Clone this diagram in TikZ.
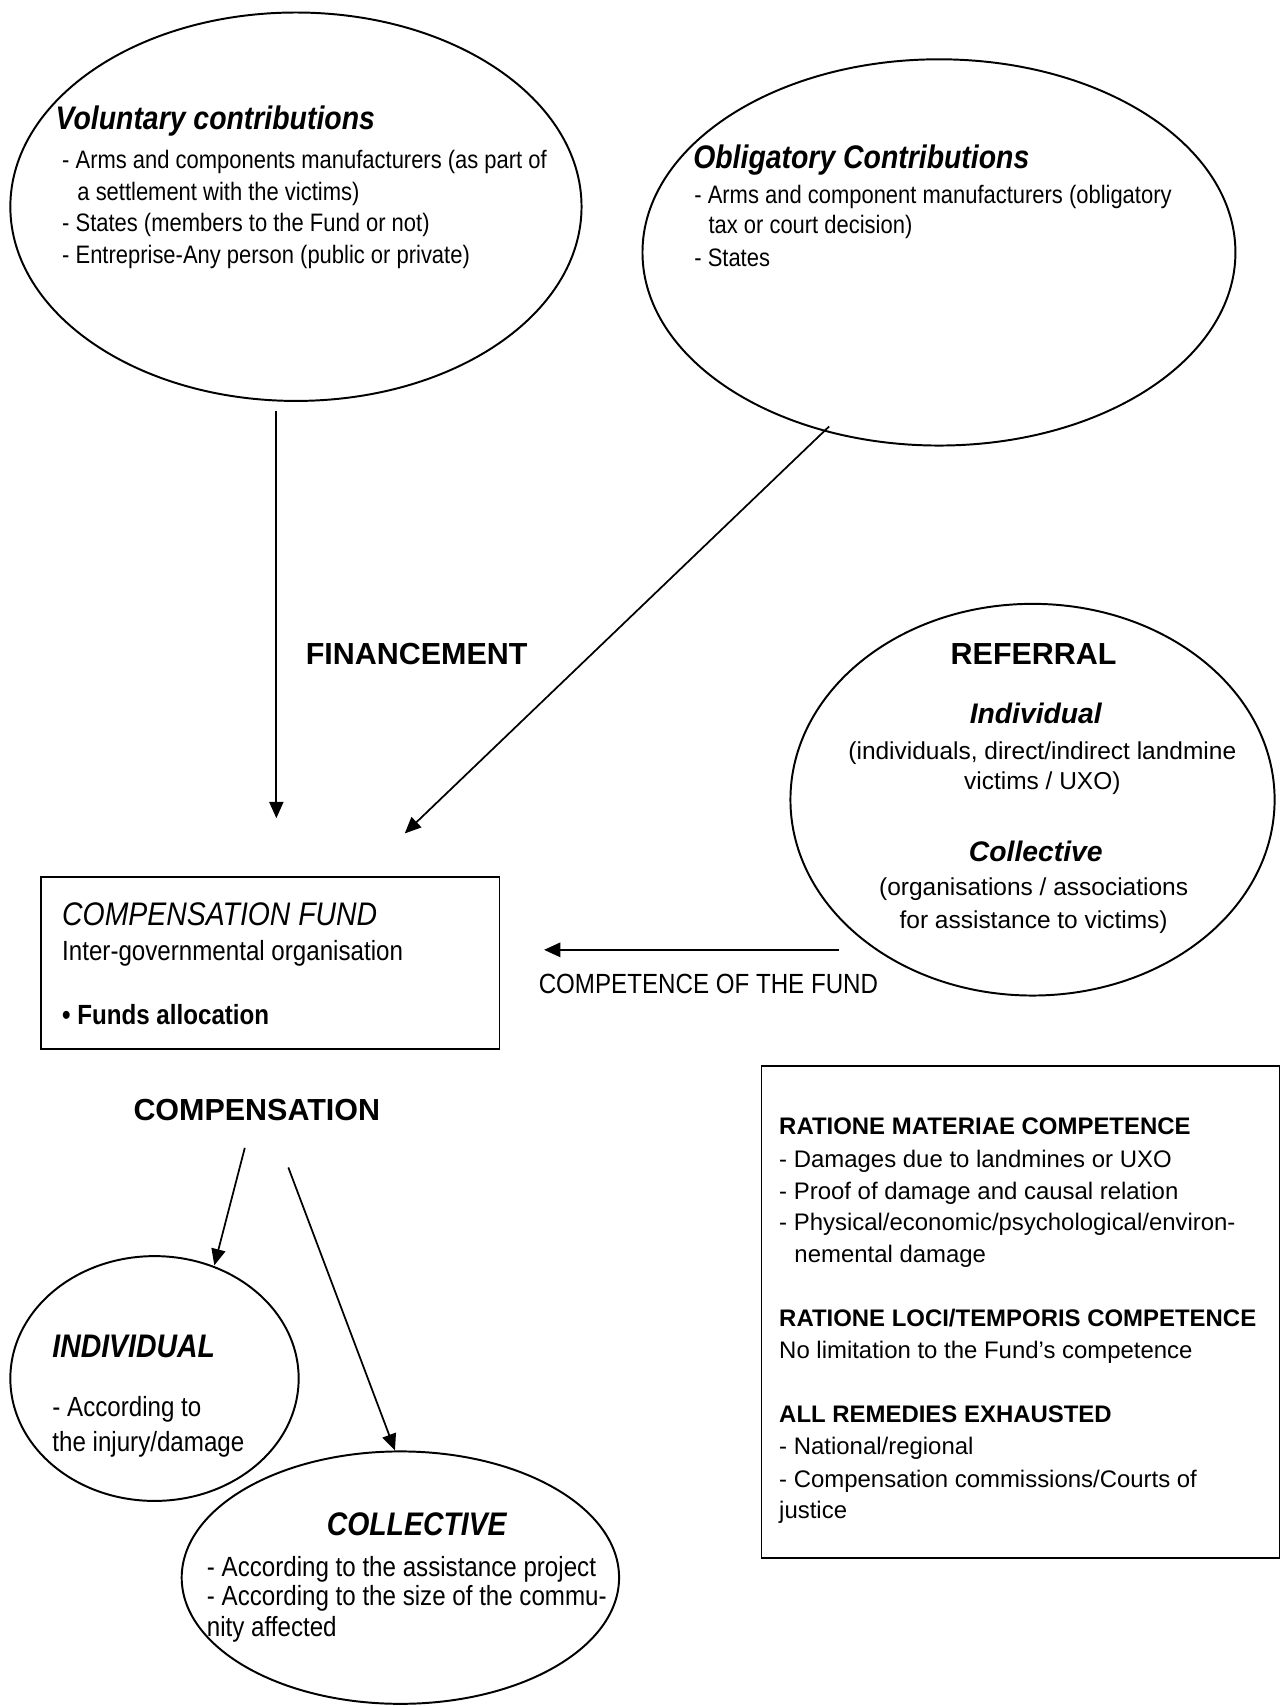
\documentclass[tikz,border=0pt]{standalone}
\usepackage{fontspec}
\setmainfont{Liberation Sans}
\newfontfamily\condf{Liberation Sans}[FakeStretch=0.87]
\usetikzlibrary{arrows.meta,shapes.geometric}
\tikzset{
 oval/.style={draw, ellipse, line width=1.8pt, inner sep=0pt},
 frame/.style={draw, line width=1.6pt, inner sep=0pt},
 conn/.style={line width=1.6pt, -{Triangle[length=15pt,width=13pt]}},
 tl/.style={anchor=base west, inner sep=0pt},
 tc/.style={anchor=base, inner sep=0pt},
 cbody/.style={font=\condf\fontsize{23.2}{27}\selectfont},
 cbody2/.style={font=\condf\fontsize{25.5}{30}\selectfont},
 cbold2/.style={font=\condf\bfseries\fontsize{25.5}{30}\selectfont},
 cital/.style={font=\condf\itshape\fontsize{30}{36}\selectfont},
 ctitle/.style={font=\condf\bfseries\itshape\fontsize{30}{36}\selectfont},
 rbody/.style={font=\fontsize{22.5}{27}\selectfont},
 rhead/.style={font=\bfseries\fontsize{28}{34}\selectfont},
 rtitle/.style={font=\bfseries\itshape\fontsize{26}{31}\selectfont},
 bbody/.style={font=\fontsize{22}{27}\selectfont},
 bhead/.style={font=\bfseries\fontsize{22}{27}\selectfont},
}
\begin{document}
\begin{tikzpicture}[x=1pt,y=-1pt]
\fill[white] (0,0) rectangle (1179,1568);
\useasboundingbox (0,0) rectangle (1179,1568);

% ellipses
\node[oval, minimum width=525pt, minimum height=357pt] (vol) at (272,190) {};
\node[oval, minimum width=545pt, minimum height=355pt] (obl) at (863,232) {};
\node[oval, minimum width=445pt, minimum height=360pt] (ref) at (949,735) {};
\node[oval, minimum width=265pt, minimum height=225pt] (ind) at (142,1267) {};
\node[oval, minimum width=402pt, minimum height=232pt] (col) at (368,1450) {};

% boxes
\node[frame, minimum width=421pt, minimum height=158pt] (fund) at (248.5,885) {};
\node[frame, minimum width=476pt, minimum height=452pt] (crit) at (938,1206) {};

% voluntary
\node[tl, ctitle] (volT) at (51,119) {Voluntary contributions};
\node[tl, cbody] (vol1) at (57,155) {- Arms and components manufacturers (as part of};
\node[tl, cbody] (vol2) at (71,184) {a settlement with the victims)};
\node[tl, cbody] (vol3) at (57,213) {- States (members to the Fund or not)};
\node[tl, cbody] (vol4) at (57,242) {- Entreprise-Any person (public or private)};

% obligatory
\node[tl, ctitle] (oblT) at (637,155) {Obligatory Contributions};
\node[tl, cbody] (obl1) at (638,187) {- Arms and component manufacturers (obligatory};
\node[tl, cbody] (obl2) at (651,215) {tax or court decision)};
\node[tl, cbody] (obl3) at (638,245) {- States};

% financement
\node[tc, rhead] (fin) at (383,611) {FINANCEMENT};

% referral
\node[tc, rhead] (refT) at (950,611) {REFERRAL};
\node[tc, rtitle] (refI) at (952,665) {Individual};
\node[tc, rbody] (refI1) at (958,698) {(individuals, direct/indirect landmine};
\node[tc, rbody] (refI2) at (958,726) {victims / UXO)};
\node[tc, rtitle] (refC) at (952,792) {Collective};
\node[tc, rbody] (refC1) at (950,823) {(organisations / associations};
\node[tc, rbody] (refC2) at (950,853) {for assistance to victims)};

% fund
\node[tl, cital] (fundT) at (57,851) {COMPENSATION FUND};
\node[tl, cbody2] (fund1) at (57,883) {Inter-governmental organisation};
\node[tl, cbold2] (fund2) at (57,942) {• Funds allocation};

\node[tl, cbody2] (compl) at (495,913) {COMPETENCE OF THE FUND};

\node[tc, rhead] (cmp) at (236,1030) {COMPENSATION};

% individual
\node[tl, ctitle] (indT) at (48,1248) {INDIVIDUAL};
\node[tl, cbody2] (ind1) at (48,1302) {- According to};
\node[tl, cbody2] (ind2) at (48,1334) {the injury/damage};

% collective
\node[tc, ctitle] (colT) at (383,1411) {COLLECTIVE};
\node[tl, cbody2] (col1) at (190,1449) {- According to the assistance project};
\node[tl, cbody2] (col2) at (190,1476) {- According to the size of the commu-};
\node[tl, cbody2] (col3) at (190,1504) {nity affected};

% criteria box
\node[tl, bhead] (c1) at (716,1043) {RATIONE MATERIAE COMPETENCE};
\node[tl, bbody] (c2) at (716,1073) {- Damages due to landmines or UXO};
\node[tl, bbody] (c3) at (716,1102) {- Proof of damage and causal relation};
\node[tl, bbody] (c4) at (716,1131) {- Physical/economic/psychological/environ-};
\node[tl, bbody] (c5) at (730,1160) {nemental damage};
\node[tl, bhead] (c6) at (716,1219) {RATIONE LOCI/TEMPORIS COMPETENCE};
\node[tl, bbody] (c7) at (716,1249) {No limitation to the Fund’s competence};
\node[tl, bhead] (c8) at (716,1307) {ALL REMEDIES EXHAUSTED};
\node[tl, bbody] (c9) at (716,1337) {- National/regional};
\node[tl, bbody] (c10) at (716,1367) {- Compensation commissions/Courts of};
\node[tl, bbody] (c11) at (716,1396) {justice};

% connectors
\coordinate (a1s) at (254,378);
\coordinate (a1e) at (254,752);
\coordinate (a2s) at (762,392);
\coordinate (a2e) at (372,766);
\coordinate (a3s) at (771,873);
\coordinate (a3e) at (500,873);
\coordinate (a4s) at (225,1055);
\coordinate (a4e) at (197,1163);
\coordinate (a5s) at (265,1073);
\coordinate (a5e) at (363,1333);
\draw[conn] (a1s) -- (a1e);
\draw[conn] (a2s) -- (a2e);
\draw[conn, line width=2.4pt] (a3s) -- (a3e);
\draw[conn] (a4s) -- (a4e);
\draw[conn] (a5s) -- (a5e);
\end{tikzpicture}
\end{document}
